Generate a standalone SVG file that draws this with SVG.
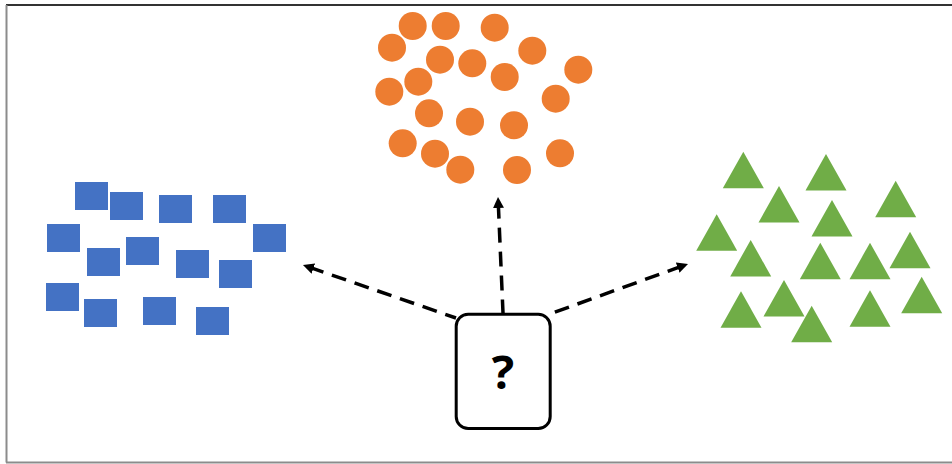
<svg xmlns="http://www.w3.org/2000/svg" width="952" height="464" viewBox="0 0 952 464">
  <style>
    .sq { fill: #4472C4; }
    .dot { fill: #ED7D31; }
    .tri { fill: #70AD47; }
    .frame-top { stroke: #333333; stroke-width: 2; }
    .frame-side { stroke: #8c8c8c; stroke-width: 2; }
    .conn { fill: none; stroke: #000000; stroke-width: 3.5; stroke-dasharray: 15 9; marker-start: url(#arrow); }
    .box { fill: #ffffff; stroke: #000000; stroke-width: 3; }
    .q { font-family: "Open Sans", "Liberation Sans", sans-serif; font-weight: bold; font-size: 47px; fill: #000000; }
  </style>
  <defs>
    <!-- arrowhead placed at the path start, pointing back along it -->
    <marker id="arrow" viewBox="0 0 10 10" refX="4" refY="5" markerWidth="11" markerHeight="11" markerUnits="userSpaceOnUse" orient="auto-start-reverse">
      <path d="M0,0 L10,5 L0,10 z" fill="#000000"/>
    </marker>
    <rect id="s" class="sq" width="33" height="28"/>
    <circle id="c" class="dot" r="14"/>
    <path id="t" class="tri" d="M0,0 L20.5,36.5 L-20.5,36.5 z"/>
  </defs>

  <rect width="952" height="464" fill="#ffffff"/>
  <line class="frame-top" x1="6" y1="5" x2="952" y2="5"/>
  <line class="frame-side" x1="6.5" y1="5" x2="6.5" y2="462.5"/>
  <line class="frame-side" x1="6" y1="462.5" x2="952" y2="462.5"/>

  <!-- blue squares cluster -->
  <g id="squares">
    <use href="#s" x="75" y="182"/>
    <use href="#s" x="110" y="192"/>
    <use href="#s" x="159" y="195"/>
    <use href="#s" x="213" y="195"/>
    <use href="#s" x="47" y="224"/>
    <use href="#s" x="253" y="224"/>
    <use href="#s" x="87" y="248"/>
    <use href="#s" x="126" y="237"/>
    <use href="#s" x="176" y="250"/>
    <use href="#s" x="219" y="260"/>
    <use href="#s" x="46" y="283"/>
    <use href="#s" x="84" y="299"/>
    <use href="#s" x="143" y="297"/>
    <use href="#s" x="196" y="307"/>
  </g>

  <!-- orange circles cluster -->
  <g id="circles">
    <use href="#c" x="412.7" y="26"/>
    <use href="#c" x="445.7" y="26"/>
    <use href="#c" x="494.7" y="27.7"/>
    <use href="#c" x="392" y="47.7"/>
    <use href="#c" x="532.3" y="50.7"/>
    <use href="#c" x="440" y="59.7"/>
    <use href="#c" x="472.3" y="63.3"/>
    <use href="#c" x="578.3" y="69.7"/>
    <use href="#c" x="418.3" y="81.7"/>
    <use href="#c" x="504.7" y="77"/>
    <use href="#c" x="389.3" y="91.7"/>
    <use href="#c" x="555.7" y="98.7"/>
    <use href="#c" x="429" y="113.3"/>
    <use href="#c" x="470" y="121.7"/>
    <use href="#c" x="514" y="125.3"/>
    <use href="#c" x="402.7" y="143.3"/>
    <use href="#c" x="435" y="153.7"/>
    <use href="#c" x="560" y="153.3"/>
    <use href="#c" x="460.3" y="169.7"/>
    <use href="#c" x="517" y="170"/>
  </g>

  <!-- green triangles cluster -->
  <g id="triangles">
    <use href="#t" x="743.3" y="151.7"/>
    <use href="#t" x="826" y="154"/>
    <use href="#t" x="895.7" y="180.7"/>
    <use href="#t" x="779" y="186"/>
    <use href="#t" x="832" y="200"/>
    <use href="#t" x="716.7" y="214.3"/>
    <use href="#t" x="750.7" y="240"/>
    <use href="#t" x="820.3" y="242.7"/>
    <use href="#t" x="870" y="242.7"/>
    <use href="#t" x="910" y="231.7"/>
    <use href="#t" x="741" y="291.3"/>
    <use href="#t" x="784" y="280"/>
    <use href="#t" x="811.7" y="305.7"/>
    <use href="#t" x="870" y="290.3"/>
    <use href="#t" x="921.7" y="276.7"/>
  </g>

  <!-- dashed arrows from the unknown item, drawn head-first so a dash meets each head -->
  <g id="connectors">
    <line class="conn" x1="309.2" y1="267.2" x2="456" y2="318"/>
    <line class="conn" x1="498.3" y1="203.6" x2="503" y2="313"/>
    <line class="conn" x1="681.8" y1="266.2" x2="547" y2="315"/>
  </g>

  <!-- unknown item -->
  <g id="unknown">
    <rect class="box" x="456.2" y="314.2" width="94" height="114.3" rx="12" ry="12"/>
    <text class="q" x="503" y="389" text-anchor="middle">?</text>
  </g>
</svg>
